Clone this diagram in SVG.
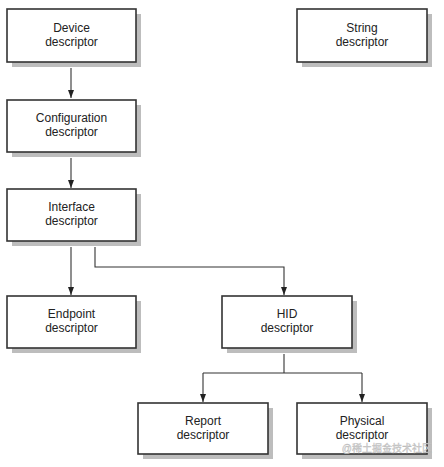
<svg xmlns="http://www.w3.org/2000/svg" width="444" height="467" viewBox="0 0 444 467">
<style>
.shadow{fill:#bdbdbd}
.box{fill:#fff;stroke:#333;stroke-width:1.6}
.lbl{font-family:"Liberation Sans",Arial,sans-serif;font-size:12px;fill:#222;text-anchor:middle}
.conn{fill:none;stroke:#333;stroke-width:1.1}
.wm{font-family:"Liberation Sans","Noto Sans CJK SC",sans-serif;font-size:10px;fill:#d4d4d4;stroke:#b8b8b8;stroke-width:0.3}
</style>
<defs>
<marker id="ah" viewBox="0 0 8 8" refX="8" refY="4" markerWidth="8" markerHeight="8" markerUnits="userSpaceOnUse" orient="auto">
<path d="M0,1 L8,4 L0,7 Z" fill="#222"/>
</marker>
</defs>
<rect width="444" height="467" fill="#fff"/>
<g id="connectors">
<path class="conn" d="M71,68 V98" marker-end="url(#ah)"/>
<path class="conn" d="M71,158 V188" marker-end="url(#ah)"/>
<path class="conn" d="M71,247 V295" marker-end="url(#ah)"/>
<path class="conn" d="M95,247 V267 H284 V295" marker-end="url(#ah)"/>
<path class="conn" d="M284,354 V373"/>
<path class="conn" d="M203,373 H362"/>
<path class="conn" d="M203,373 V402" marker-end="url(#ah)"/>
<path class="conn" d="M362,373 V402" marker-end="url(#ah)"/>
</g>
<g id="device">
<rect class="shadow" x="12" y="14" width="129" height="53"/>
<rect class="box" x="7" y="9" width="129" height="53"/>
<text class="lbl" x="71.5" y="32">Device</text>
<text class="lbl" x="71.5" y="46">descriptor</text>
</g>
<g id="string">
<rect class="shadow" x="302" y="14" width="130" height="53"/>
<rect class="box" x="297" y="9" width="130" height="53"/>
<text class="lbl" x="362" y="32">String</text>
<text class="lbl" x="362" y="46">descriptor</text>
</g>
<g id="configuration">
<rect class="shadow" x="12" y="105" width="129" height="52"/>
<rect class="box" x="7" y="100" width="129" height="52"/>
<text class="lbl" x="71.5" y="122">Configuration</text>
<text class="lbl" x="71.5" y="136">descriptor</text>
</g>
<g id="interface">
<rect class="shadow" x="12" y="194" width="129" height="52"/>
<rect class="box" x="7" y="189" width="129" height="52"/>
<text class="lbl" x="71.5" y="211">Interface</text>
<text class="lbl" x="71.5" y="225">descriptor</text>
</g>
<g id="endpoint">
<rect class="shadow" x="12" y="301" width="129" height="52"/>
<rect class="box" x="7" y="296" width="129" height="52"/>
<text class="lbl" x="71.5" y="318">Endpoint</text>
<text class="lbl" x="71.5" y="332">descriptor</text>
</g>
<g id="hid">
<rect class="shadow" x="227" y="301" width="130" height="52"/>
<rect class="box" x="222" y="296" width="130" height="52"/>
<text class="lbl" x="287" y="318">HID</text>
<text class="lbl" x="287" y="332">descriptor</text>
</g>
<g id="report">
<rect class="shadow" x="143" y="408" width="130" height="51"/>
<rect class="box" x="138" y="403" width="130" height="51"/>
<text class="lbl" x="203" y="425">Report</text>
<text class="lbl" x="203" y="439">descriptor</text>
</g>
<g id="physical">
<rect class="shadow" x="302" y="408" width="130" height="51"/>
<rect class="box" x="297" y="403" width="130" height="51"/>
<text class="lbl" x="362" y="425">Physical</text>
<text class="lbl" x="362" y="439">descriptor</text>
</g>
<text class="wm" x="432" y="452" text-anchor="end">@稀土掘金技术社区</text>
</svg>
